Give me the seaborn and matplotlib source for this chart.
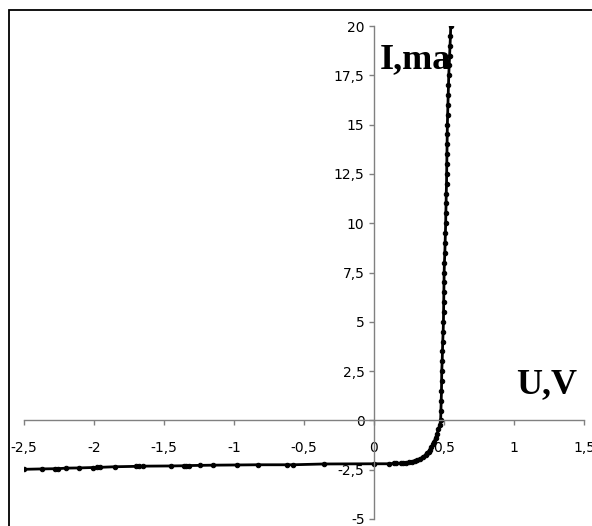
import matplotlib
matplotlib.use("Agg")
import matplotlib.pyplot as plt
from matplotlib.patches import Rectangle
import seaborn as sns
import pandas as pd

# ---- data ----
voltage = [-2.50, -2.37, -2.28, -2.26, -2.20, -2.11, -2.01, -1.98, -1.96, -1.85,
           -1.70, -1.68, -1.65, -1.45, -1.36, -1.34, -1.32, -1.24, -1.15, -0.98,
           -0.83, -0.62, -0.58, -0.36, 0.00,
           0.11, 0.14, 0.16, 0.19, 0.21, 0.23, 0.25, 0.27, 0.29, 0.31,
           0.33, 0.35, 0.37, 0.38, 0.39, 0.40, 0.41, 0.42, 0.43, 0.44,
           0.45, 0.46, 0.47, 0.476, 0.478, 0.480, 0.482, 0.483, 0.484, 0.487,
           0.489, 0.491, 0.494, 0.496, 0.497, 0.498, 0.499, 0.500, 0.501, 0.503,
           0.506, 0.508, 0.510, 0.512, 0.513, 0.515, 0.516, 0.518, 0.519, 0.520,
           0.521, 0.522, 0.523, 0.524, 0.526, 0.528, 0.530, 0.532, 0.534, 0.537,
           0.540, 0.543, 0.546, 0.548]
current = [-2.48, -2.46, -2.45, -2.45, -2.42, -2.41, -2.39, -2.38, -2.38, -2.35,
           -2.33, -2.33, -2.32, -2.31, -2.30, -2.29, -2.29, -2.28, -2.27, -2.26,
           -2.25, -2.25, -2.25, -2.21, -2.20,
           -2.20, -2.18, -2.18, -2.17, -2.16, -2.14, -2.12, -2.09, -2.05, -2.00,
           -1.94, -1.85, -1.74, -1.66, -1.58, -1.48, -1.36, -1.22, -1.07, -0.88,
           -0.68, -0.45, -0.22, 0.00, 0.50, 1.00, 1.50, 2.00, 2.50, 3.00,
           3.50, 4.00, 4.50, 5.00, 5.50, 6.00, 6.50, 7.00, 7.50, 8.00,
           8.50, 9.00, 9.50, 10.00, 10.50, 11.00, 11.50, 12.00, 12.50, 13.00,
           13.50, 14.00, 14.50, 15.00, 15.50, 16.00, 16.50, 17.00, 17.50, 18.00,
           18.50, 19.00, 19.50, 20.00]

x_ticks = [-2.5, -2.0, -1.5, -1.0, -0.5, 0.0, 0.5, 1.0, 1.5]
x_tick_labels = ['-2,5', '-2', '-1,5', '-1', '-0,5', '0', '0,5', '1', '1,5']
y_ticks = [-5, -2.5, 0, 2.5, 5, 7.5, 10, 12.5, 15, 17.5, 20]
y_tick_labels = ['-5', '-2,5', '0', '2,5', '5', '7,5', '10', '12,5', '15', '17,5', '20']
y_axis_title = 'I,ma'
x_axis_title = 'U,V'

df = pd.DataFrame({'U': voltage, 'I': current})

sns.set_style('white')
plt.rcParams['font.family'] = ['DejaVu Sans']
plt.rcParams['text.color'] = 'black'

fig = plt.figure(figsize=(5.92, 5.26), dpi=100)
ax = fig.add_axes([24 / 592, 7 / 526, 560 / 592, 493 / 526])

sns.lineplot(data=df, x='U', y='I', sort=False, estimator=None, ax=ax,
             color='black', linewidth=2.0, marker='o', markersize=3.2,
             markeredgecolor='black', markerfacecolor='black', clip_on=True)

ax.set_xlim(-2.5, 1.5)
ax.set_ylim(-5, 20)
ax.set_xticks(x_ticks)
ax.set_xticklabels(x_tick_labels)
ax.set_yticks(y_ticks)
ax.set_yticklabels(y_tick_labels)
ax.set_xlabel('')
ax.set_ylabel('')

for s in ['top', 'right']:
    ax.spines[s].set_visible(False)
ax.spines['left'].set_position(('data', 0))
ax.spines['bottom'].set_position(('data', 0))
for s in ['left', 'bottom']:
    ax.spines[s].set_color('#808080')
    ax.spines[s].set_linewidth(1.0)

ax.tick_params(axis='x', direction='out', length=3.5, width=1.0, color='#808080',
               pad=11, labelsize=10, labelcolor='black', bottom=True)
ax.tick_params(axis='y', direction='out', length=3.8, width=1.0, color='#808080',
               pad=3, labelsize=10, labelcolor='black', left=True)
ax.grid(False)
ax.patch.set_alpha(0)

ax.text(0.04, 17.87, y_axis_title, ha='left', va='baseline', color='black',
        fontsize=26, fontweight='bold', family=['Liberation Serif', 'DejaVu Serif'])
ax.text(1.012, 1.37, x_axis_title, ha='left', va='baseline', color='black',
        fontsize=26, fontweight='bold', family=['Liberation Serif', 'DejaVu Serif'])

fig.patches.append(Rectangle((9 / 592, -0.05), 1.2, 1 - 10 / 526 + 0.05,
                             transform=fig.transFigure, fill=False,
                             edgecolor='black', linewidth=1.3))

fig.savefig('out.png', dpi=100)
